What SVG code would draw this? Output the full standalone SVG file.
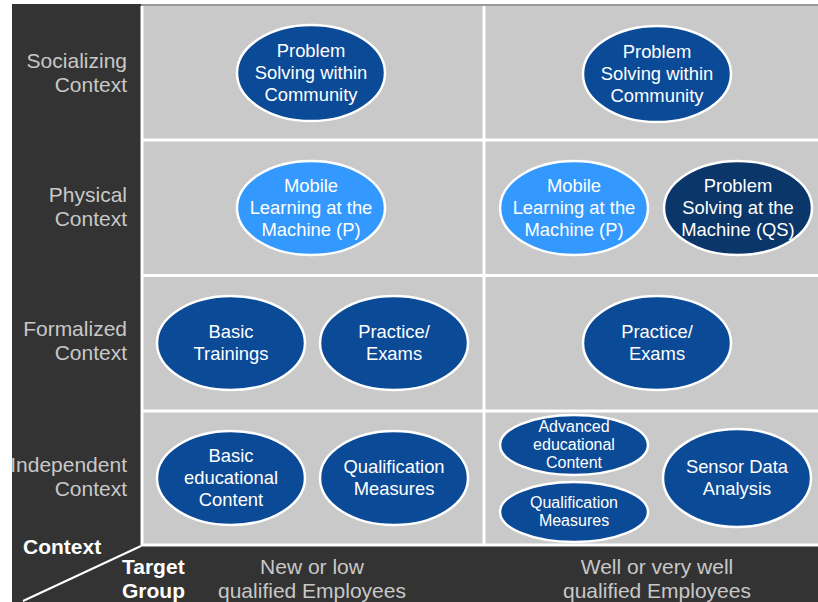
<svg xmlns="http://www.w3.org/2000/svg" width="818" height="602" viewBox="0 0 818 602">
  <style>
    .cell { fill: #c9c9c9; }
    .sep { stroke: #ffffff; stroke-width: 3; }
    .axis { font-family: "Liberation Sans", Arial, sans-serif; font-size: 21px; fill: #c8c8c8; }
    .axis-r { text-anchor: end; }
    .axis-c { text-anchor: middle; }
    .bold { font-family: "Liberation Sans", Arial, sans-serif; font-size: 21px; font-weight: bold; fill: #ffffff; }
    .node ellipse { stroke: #ffffff; stroke-width: 2.5; }
    .navy { fill: #0b4a97; }
    .light { fill: #3399fe; }
    .deep { fill: #0b3669; }
    .node text { font-family: "Liberation Sans", Arial, sans-serif; font-size: 18.4px; fill: #ffffff; text-anchor: middle; }
    .node text.small { font-size: 16px; }
  </style>

  <!-- background -->
  <rect x="0" y="0" width="818" height="602" fill="#ffffff"/>
  <!-- dark frame: left axis column and bottom axis bar -->
  <rect x="12" y="4" width="129" height="598" fill="#333333"/>
  <rect x="12" y="546" width="806" height="56" fill="#333333"/>

  <!-- grid cells -->
  <rect x="141" y="4" width="677" height="542" fill="#9a9a9a"/>
  <rect class="cell" x="141" y="6" width="677" height="540"/>
  <g>
    <line class="sep" x1="141" y1="140" x2="818" y2="140"/>
    <line class="sep" x1="141" y1="275.5" x2="818" y2="275.5"/>
    <line class="sep" x1="141" y1="411" x2="818" y2="411"/>
    <line class="sep" x1="141" y1="545" x2="818" y2="545"/>
    <line class="sep" x1="142" y1="6" x2="142" y2="546"/>
    <line class="sep" x1="484" y1="6" x2="484" y2="546"/>
  </g>

  <!-- corner diagonal -->
  <g id="connectors">
    <line x1="141" y1="546" x2="23" y2="601" stroke="#ffffff" stroke-width="2"/>
  </g>

  <!-- vertical axis labels -->
  <g id="context-labels">
    <text class="axis axis-r" x="127" y="68">Socializing</text>
    <text class="axis axis-r" x="127" y="92">Context</text>
    <text class="axis axis-r" x="127" y="202">Physical</text>
    <text class="axis axis-r" x="127" y="226">Context</text>
    <text class="axis axis-r" x="127" y="336">Formalized</text>
    <text class="axis axis-r" x="127" y="360">Context</text>
    <text class="axis axis-r" x="127" y="472">Independent</text>
    <text class="axis axis-r" x="127" y="496">Context</text>
  </g>

  <!-- corner titles -->
  <text class="bold" x="23" y="554">Context</text>
  <text class="bold" x="122" y="574">Target</text>
  <text class="bold" x="122" y="598">Group</text>

  <!-- horizontal axis labels -->
  <g id="group-labels">
    <text class="axis axis-c" x="312" y="574">New or low</text>
    <text class="axis axis-c" x="312" y="598">qualified Employees</text>
    <text class="axis axis-c" x="657" y="574">Well or very well</text>
    <text class="axis axis-c" x="657" y="598">qualified Employees</text>
  </g>

  <!-- Socializing row -->
  <g id="soc-low" class="node">
    <ellipse class="navy" cx="311" cy="73" rx="74" ry="48"/>
    <text x="311" y="57">Problem</text>
    <text x="311" y="79">Solving within</text>
    <text x="311" y="101">Community</text>
  </g>
  <g id="soc-high" class="node">
    <ellipse class="navy" cx="657" cy="74" rx="74" ry="48"/>
    <text x="657" y="58">Problem</text>
    <text x="657" y="80">Solving within</text>
    <text x="657" y="102">Community</text>
  </g>

  <!-- Physical row -->
  <g id="phys-low" class="node">
    <ellipse class="light" cx="311" cy="208" rx="74" ry="47"/>
    <text x="311" y="192">Mobile</text>
    <text x="311" y="214">Learning at the</text>
    <text x="311" y="236">Machine (P)</text>
  </g>
  <g id="phys-high-mobile" class="node">
    <ellipse class="light" cx="574" cy="208" rx="74" ry="47"/>
    <text x="574" y="192">Mobile</text>
    <text x="574" y="214">Learning at the</text>
    <text x="574" y="236">Machine (P)</text>
  </g>
  <g id="phys-high-solving" class="node">
    <ellipse class="deep" cx="738" cy="208" rx="74" ry="47"/>
    <text x="738" y="192">Problem</text>
    <text x="738" y="214">Solving at the</text>
    <text x="738" y="236">Machine (QS)</text>
  </g>

  <!-- Formalized row -->
  <g id="form-low-basic" class="node">
    <ellipse class="navy" cx="231" cy="343" rx="74" ry="47"/>
    <text x="231" y="338">Basic</text>
    <text x="231" y="360">Trainings</text>
  </g>
  <g id="form-low-practice" class="node">
    <ellipse class="navy" cx="394" cy="343" rx="74" ry="47"/>
    <text x="394" y="338">Practice/</text>
    <text x="394" y="360">Exams</text>
  </g>
  <g id="form-high-practice" class="node">
    <ellipse class="navy" cx="657" cy="343" rx="74" ry="47"/>
    <text x="657" y="338">Practice/</text>
    <text x="657" y="360">Exams</text>
  </g>

  <!-- Independent row -->
  <g id="ind-low-basic" class="node">
    <ellipse class="navy" cx="231" cy="478" rx="74" ry="47"/>
    <text x="231" y="462">Basic</text>
    <text x="231" y="484">educational</text>
    <text x="231" y="506">Content</text>
  </g>
  <g id="ind-low-qual" class="node">
    <ellipse class="navy" cx="394" cy="478" rx="74" ry="47"/>
    <text x="394" y="473">Qualification</text>
    <text x="394" y="495">Measures</text>
  </g>
  <g id="ind-high-advanced" class="node">
    <ellipse class="navy" cx="574" cy="445" rx="74" ry="30"/>
    <text class="small" x="574" y="432">Advanced</text>
    <text class="small" x="574" y="450">educational</text>
    <text class="small" x="574" y="468">Content</text>
  </g>
  <g id="ind-high-qual" class="node">
    <ellipse class="navy" cx="574" cy="512" rx="74" ry="30"/>
    <text class="small" x="574" y="508">Qualification</text>
    <text class="small" x="574" y="526">Measures</text>
  </g>
  <g id="ind-high-sensor" class="node">
    <ellipse class="navy" cx="737" cy="478" rx="74" ry="49"/>
    <text x="737" y="473">Sensor Data</text>
    <text x="737" y="495">Analysis</text>
  </g>
</svg>
